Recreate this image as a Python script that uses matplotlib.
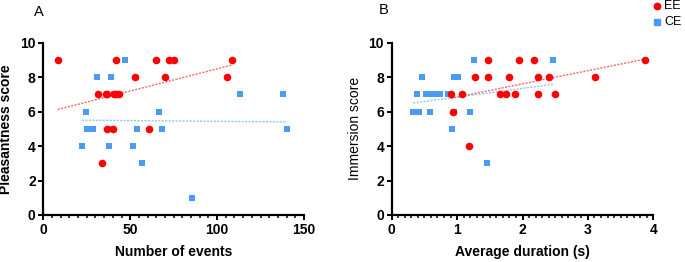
import numpy as np
import matplotlib.pyplot as plt
from matplotlib.ticker import MultipleLocator

plt.rcParams['font.family'] = ['Liberation Sans', 'DejaVu Sans']

# Panel A: number of events vs pleasantness
a_ee_x = [8.3, 41.8, 64.6, 72.4, 75.1, 108.6, 52.7, 70.1, 105.6,
          31.6, 35.8, 36.5, 40.6, 42.0, 43.3, 36.6, 40.1, 61.1, 33.5]
a_ee_y = [9, 9, 9, 9, 9, 9, 8, 8, 8,
          7, 7, 7, 7, 7, 7, 5, 5, 5, 3]
a_ce_x = [47.1, 30.9, 38.7, 40.5, 113.1, 138.0, 24.4, 66.5, 25.3, 28.7,
          38.5, 53.7, 68.2, 140.0, 22.2, 37.8, 51.8, 56.7, 85.6]
a_ce_y = [9, 8, 8, 7, 7, 7, 6, 6, 5, 5,
          5, 5, 5, 5, 4, 4, 4, 3, 1]

# Panel B: average duration vs immersion
b_ee_x = [1.48, 1.94, 2.17, 3.88, 1.27, 1.48, 1.79, 2.24, 2.41, 3.11,
          0.90, 1.075, 1.66, 1.75, 1.88, 2.24, 2.50, 0.94, 1.18]
b_ee_y = [9, 9, 9, 9, 8, 8, 8, 8, 8, 8,
          7, 7, 7, 7, 7, 7, 7, 6, 4]
b_ce_x = [1.26, 2.47, 0.47, 0.96, 1.02, 0.38, 0.52, 0.585, 0.68, 0.74,
          0.86, 0.33, 0.41, 0.59, 0.95, 1.20, 0.92, 1.46]
b_ce_y = [9, 9, 8, 8, 8, 7, 7, 7, 7, 7,
          7, 6, 6, 6, 6, 6, 5, 3]

red = '#ff0000'
blue = '#4a9cf2'

fig = plt.figure(figsize=(6.85, 2.62), dpi=100)
axA = fig.add_axes([43.3 / 685, 1 - 215 / 262, (304 - 43.3) / 685, (215 - 42.7) / 262])
axB = fig.add_axes([391.7 / 685, 1 - 215 / 262, (653.3 - 391.7) / 685, (215 - 42.7) / 262])


def panel(ax, ex, ey, cx, cy, xmax, xmaj, xmin, xlabel, ylabel, yweight):
    ax.scatter(cx, cy, marker='s', s=24, color=blue, zorder=3, linewidths=0)
    ax.scatter(ex, ey, marker='o', s=30, color=red, zorder=4, linewidths=0)
    # linear fits
    for x, y, c in [(ex, ey, red), (cx, cy, blue)]:
        k, b = np.polyfit(x, y, 1)
        xs = np.array([min(x), max(x)])
        ax.plot(xs, k * xs + b, ls=(0, (1.5, 1)), color=c, lw=1.0, alpha=0.6, zorder=2)
    ax.set_xlim(0, xmax)
    ax.set_ylim(0, 10)
    ax.xaxis.set_major_locator(MultipleLocator(xmaj))
    ax.xaxis.set_minor_locator(MultipleLocator(xmin))
    ax.yaxis.set_major_locator(MultipleLocator(2))
    for s in ['top', 'right']:
        ax.spines[s].set_visible(False)
    for s in ['left', 'bottom']:
        ax.spines[s].set_linewidth(1.6)
        ax.spines[s].set_clip_on(False)
    ax.tick_params(which='major', length=3.5, width=1.4, labelsize=10, pad=2)
    ax.tick_params(which='minor', length=2.2, width=1.1)
    for t in ax.get_xticklabels() + ax.get_yticklabels():
        t.set_fontweight('bold')
    ax.set_xlabel(xlabel, fontsize=10, fontweight='bold', labelpad=6)
    ax.set_ylabel(ylabel, fontsize=10, fontweight=yweight, labelpad=5)


panel(axA, a_ee_x, a_ee_y, a_ce_x, a_ce_y, 150, 50, 5,
      'Number of events', 'Pleasantness score', 'bold')
panel(axB, b_ee_x, b_ee_y, b_ce_x, b_ce_y, 4, 1, 0.1,
      'Average duration (s)', 'Immersion score', 'normal')

fig.text(39 / 685, 1 - 12 / 262, 'A', fontsize=10.5, ha='center', va='center')
fig.text(384 / 685, 1 - 10 / 262, 'B', fontsize=10.5, ha='center', va='center')

# legend
lx = 657 / 685
fig.add_artist(plt.Line2D([lx], [1 - 6 / 262], marker='o', color=red, ms=4.6, ls='none'))
fig.add_artist(plt.Line2D([lx], [1 - 22 / 262], marker='s', color=blue, ms=4.2, ls='none'))
fig.text(664 / 685, 1 - 6 / 262, 'EE', fontsize=9, va='center')
fig.text(664 / 685, 1 - 22 / 262, 'CE', fontsize=9, va='center')

fig.savefig('out.png', dpi=100)
